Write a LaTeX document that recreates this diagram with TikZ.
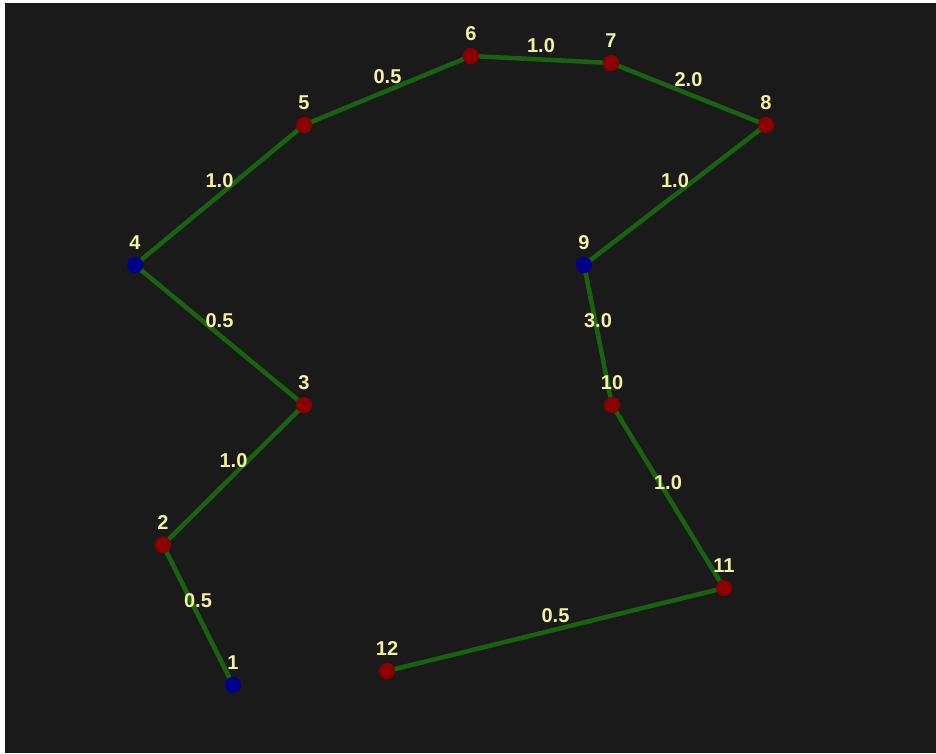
\documentclass[tikz,border=0pt]{standalone}
\usepackage{fontspec}
\setmainfont{Liberation Sans}
\usepackage{tikz}

\definecolor{bgdark}{RGB}{26,26,26}
\definecolor{edgegreen}{RGB}{24,100,14}
\definecolor{dotred}{RGB}{140,0,0}
\definecolor{dotblue}{RGB}{0,0,140}
\definecolor{textyellow}{RGB}{245,242,160}

\pgfdeclarelayer{canvas}
\pgfdeclarelayer{edges}
\pgfsetlayers{canvas,edges,main}

\tikzset{
	numlabel/.style={text=textyellow, inner sep=0pt, font=\bfseries\fontsize{20}{22}\selectfont},
	nodelabel/.style={numlabel, yshift=7pt},
	dot/.style={circle, minimum size=16pt, inner sep=0pt, outer sep=0pt},
	reddot/.style={dot, fill=dotred},
	bluedot/.style={dot, fill=dotblue},
	edge/.style={draw=edgegreen, line width=4.5pt},
	weight/.style={numlabel, anchor=center, yshift=14pt}
}

\begin{document}
\begin{tikzpicture}[x=1pt, y=-1pt]
			\begin{pgfonlayer}{canvas}
				\fill[white] (0, 0) rectangle (936, 753);
				\fill[bgdark] (5, 3) rectangle (936, 753);
			\end{pgfonlayer}
			\useasboundingbox (0, 0) rectangle (936, 753);
			
			\node[bluedot, label={[nodelabel]90:1}] (n1) at (233, 685) {};
			\node[reddot, label={[nodelabel]90:2}] (n2) at (163, 545) {};
			\node[reddot, label={[nodelabel]90:3}] (n3) at (304, 405) {};
			\node[bluedot, label={[nodelabel]90:4}] (n4) at (135, 265) {};
			\node[reddot, label={[nodelabel]90:5}] (n5) at (304, 125) {};
			\node[reddot, label={[nodelabel]90:6}] (n6) at (471, 56) {};
			\node[reddot, label={[nodelabel]90:7}] (n7) at (611, 63) {};
			\node[reddot, label={[nodelabel]90:8}] (n8) at (766, 125) {};
			\node[bluedot, label={[nodelabel]90:9}] (n9) at (584, 265) {};
			\node[reddot, label={[nodelabel]90:10}] (n10) at (612, 405) {};
			\node[reddot, label={[nodelabel]90:11}] (n11) at (724, 588) {};
			\node[reddot, label={[nodelabel]90:12}] (n12) at (387, 671) {};
			
			\begin{pgfonlayer}{edges}
				\draw[edge] (n1) -- (n2);
				\draw[edge] (n2) -- (n3);
				\draw[edge] (n3) -- (n4);
				\draw[edge] (n4) -- (n5);
				\draw[edge] (n5) -- (n6);
				\draw[edge] (n6) -- (n7);
				\draw[edge] (n7) -- (n8);
				\draw[edge] (n8) -- (n9);
				\draw[edge] (n9) -- (n10);
				\draw[edge] (n10) -- (n11);
				\draw[edge] (n11) -- (n12);
			\end{pgfonlayer}
			
			% edge weights
			\path (n1) -- node[weight] {0.5} (n2);
			\path (n2) -- node[weight] {1.0} (n3);
			\path (n3) -- node[weight] {0.5} (n4);
			\path (n4) -- node[weight] {1.0} (n5);
			\path (n5) -- node[weight] {0.5} (n6);
			\path (n6) -- node[weight] {1.0} (n7);
			\path (n7) -- node[weight] {2.0} (n8);
			\path (n8) -- node[weight] {1.0} (n9);
			\path (n9) -- node[weight] {3.0} (n10);
			\path (n10) -- node[weight] {1.0} (n11);
			\path (n11) -- node[weight] {0.5} (n12);
		\end{tikzpicture}
\end{document}
